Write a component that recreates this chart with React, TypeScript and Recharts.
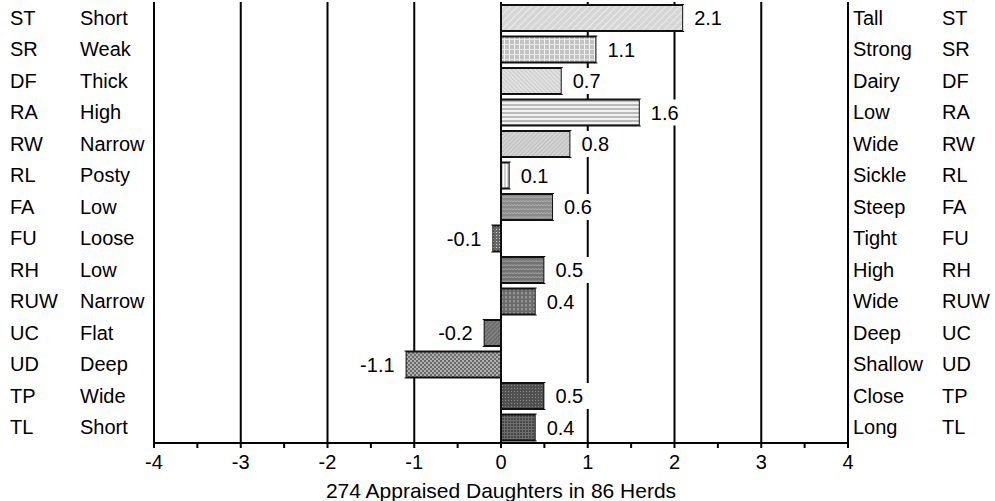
import React from 'react';
import {
  BarChart,
  Bar,
  XAxis,
  YAxis,
  CartesianGrid,
  Cell,
  LabelList,
} from 'recharts';

// trait codes, the low-end and high-end descriptions, and the PTA-style values
const codes = ['ST', 'SR', 'DF', 'RA', 'RW', 'RL', 'FA', 'FU', 'RH', 'RUW', 'UC', 'UD', 'TP', 'TL'];
const lowLabels = ['Short', 'Weak', 'Thick', 'High', 'Narrow', 'Posty', 'Low', 'Loose', 'Low', 'Narrow', 'Flat', 'Deep', 'Wide', 'Short'];
const highLabels = ['Tall', 'Strong', 'Dairy', 'Low', 'Wide', 'Sickle', 'Steep', 'Tight', 'High', 'Wide', 'Deep', 'Shallow', 'Close', 'Long'];
const values = [2.1, 1.1, 0.7, 1.6, 0.8, 0.1, 0.6, -0.1, 0.5, 0.4, -0.2, -1.1, 0.5, 0.4];

const xTicks = [-4, -3.5, -3, -2.5, -2, -1.5, -1, -0.5, 0, 0.5, 1, 1.5, 2, 2.5, 3, 3.5, 4];
const gridValues = [-4, -3, -2, -1, 0, 1, 2, 3, 4];
const xTitle = '274 Appraised Daughters in 86 Herds';

const data = codes.map((code, i) => ({
  code,
  low: lowLabels[i],
  high: highLabels[i],
  value: values[i],
}));

const FONT = '"Liberation Sans", Arial, Helvetica, sans-serif';

// rough Arial widths at 20px, enough to size the white box behind a label
const textWidth = (s: string) =>
  s.split('').reduce((w, ch) => w + (ch === '.' ? 5.6 : ch === '-' ? 6.7 : 11.1), 0);

const ValueLabel = (props: any) => {
  const { x, y, width, height, value } = props;
  if (value == null) return null;
  const left = Math.min(x, x + width);
  const right = Math.max(x, x + width);
  const text = Number(value).toFixed(1);
  const tw = textWidth(text);
  const boxW = 11 + tw + 9;
  const neg = value < 0;
  const cy = y + height / 2;
  return (
    <g>
      <rect x={neg ? left - boxW : right} y={y} width={boxW} height={height} fill="#fff" />
      <text
        x={neg ? left - 11 : right + 11}
        y={cy}
        dy="0.35em"
        textAnchor={neg ? 'end' : 'start'}
        fontSize={20}
        fontFamily={FONT}
        fill="#000"
      >
        {text}
      </text>
    </g>
  );
};

const LeftTick = (props: any) => {
  const { x, y, payload } = props;
  const row = data[payload.index];
  return (
    <g fontFamily={FONT} fontSize={20} fill="#000">
      <text x={x - 144} y={y} dy="0.35em" textAnchor="start">{row.code}</text>
      <text x={x - 74} y={y} dy="0.35em" textAnchor="start">{row.low}</text>
    </g>
  );
};

const RightTick = (props: any) => {
  const { x, y, payload } = props;
  const row = data[payload.index];
  return (
    <g fontFamily={FONT} fontSize={20} fill="#000">
      <text x={x + 5} y={y} dy="0.35em" textAnchor="start">{row.high}</text>
      <text x={x + 94} y={y} dy="0.35em" textAnchor="start">{row.code}</text>
    </g>
  );
};

// hatch fills, one per row, from light at the top to dark at the bottom
const Patterns = () => (
  <svg width={0} height={0} style={{ position: 'absolute' }}>
    <defs>
      <pattern id="p0" width="5" height="5" patternUnits="userSpaceOnUse" patternTransform="rotate(45)">
        <rect width="5" height="5" fill="#d6d6d6" />
        <line x1="0" y1="0" x2="0" y2="5" stroke="#f4f4f4" strokeWidth="1.5" />
      </pattern>
      <pattern id="p1" width="5" height="5" patternUnits="userSpaceOnUse">
        <rect width="5" height="5" fill="#c2c2c2" />
        <line x1="4.5" y1="0" x2="4.5" y2="5" stroke="#f4f4f4" strokeWidth="1" />
        <line x1="0" y1="4.5" x2="5" y2="4.5" stroke="#e8e8e8" strokeWidth="1" />
      </pattern>
      <pattern id="p2" width="3" height="3" patternUnits="userSpaceOnUse" patternTransform="rotate(-45)">
        <rect width="3" height="3" fill="#e2e2e2" />
        <line x1="0" y1="0" x2="0" y2="3" stroke="#b0b0b0" strokeWidth="1" />
      </pattern>
      <pattern id="p3" width="4" height="4" patternUnits="userSpaceOnUse">
        <rect width="4" height="4" fill="#f2f2f2" />
        <line x1="0" y1="1" x2="4" y2="1" stroke="#a6a6a6" strokeWidth="1.5" />
      </pattern>
      <pattern id="p4" width="3" height="3" patternUnits="userSpaceOnUse" patternTransform="rotate(45)">
        <rect width="3" height="3" fill="#d4d4d4" />
        <line x1="0" y1="0" x2="0" y2="3" stroke="#a4a4a4" strokeWidth="1" />
      </pattern>
      <pattern id="p5" width="3" height="3" patternUnits="userSpaceOnUse">
        <rect width="3" height="3" fill="#ffffff" />
        <line x1="1" y1="0" x2="1" y2="3" stroke="#a0a0a0" strokeWidth="1" />
      </pattern>
      <pattern id="p6" width="6" height="4" patternUnits="userSpaceOnUse">
        <rect width="6" height="4" fill="#8a8a8a" />
        <path d="M0 1.5 L1.5 0.8 L3 1.5 L4.5 0.8 L6 1.5" stroke="#b4b4b4" strokeWidth="1" fill="none" />
      </pattern>
      <pattern id="p7" width="3" height="3" patternUnits="userSpaceOnUse">
        <rect width="3" height="3" fill="#666666" />
        <rect x="1" y="1" width="1" height="1" fill="#d0d0d0" />
      </pattern>
      <pattern id="p8" width="6" height="4" patternUnits="userSpaceOnUse">
        <rect width="6" height="4" fill="#727272" />
        <path d="M0 1.5 L1.5 0.8 L3 1.5 L4.5 0.8 L6 1.5" stroke="#a8a8a8" strokeWidth="1" fill="none" />
      </pattern>
      <pattern id="p9" width="4" height="4" patternUnits="userSpaceOnUse">
        <rect width="4" height="4" fill="#6a6a6a" />
        <line x1="2" y1="0" x2="2" y2="2.5" stroke="#bcbcbc" strokeWidth="1" />
      </pattern>
      <pattern id="p10" width="3" height="3" patternUnits="userSpaceOnUse" patternTransform="rotate(45)">
        <rect width="3" height="3" fill="#6c6c6c" />
        <line x1="0" y1="0" x2="0" y2="3" stroke="#a8a8a8" strokeWidth="1" />
      </pattern>
      <pattern id="p11" width="4" height="4" patternUnits="userSpaceOnUse">
        <rect width="4" height="4" fill="#b0b0b0" />
        <rect x="0" y="0" width="2" height="2" fill="#6a6a6a" />
        <rect x="2" y="2" width="2" height="2" fill="#6a6a6a" />
      </pattern>
      <pattern id="p12" width="3" height="3" patternUnits="userSpaceOnUse">
        <rect width="3" height="3" fill="#505050" />
        <rect x="1" y="1" width="1" height="1" fill="#8c8c8c" />
      </pattern>
      <pattern id="p13" width="3" height="3" patternUnits="userSpaceOnUse">
        <rect width="3" height="3" fill="#474747" />
        <line x1="0" y1="0.5" x2="3" y2="0.5" stroke="#6e6e6e" strokeWidth="1" />
        <line x1="0.5" y1="0" x2="0.5" y2="3" stroke="#6e6e6e" strokeWidth="1" />
      </pattern>
    </defs>
  </svg>
);

export default function App() {
  return (
    <div style={{ position: 'absolute', left: 0, top: 0, width: 995, height: 501, background: '#fff' }}>
      <Patterns />
      <BarChart
        width={995}
        height={501}
        data={data}
        layout="vertical"
        margin={{ top: 2, right: 0, bottom: 0, left: 0 }}
        barCategoryGap={3}
        style={{ fontFamily: FONT }}
      >
        <CartesianGrid
          horizontal={false}
          verticalValues={gridValues}
          stroke="#000"
          strokeWidth={2}
          strokeOpacity={1}
        />
        <XAxis
          type="number"
          domain={[-4, 4]}
          ticks={xTicks}
          interval={0}
          allowDataOverflow
          tickFormatter={(v: number) => (Number.isInteger(v) ? String(v) : '')}
          tick={{ fill: '#000', fontSize: 20, fontFamily: FONT }}
          tickSize={5}
          tickMargin={7}
          axisLine={{ stroke: '#000', strokeWidth: 2 }}
          tickLine={{ stroke: '#000', strokeWidth: 2 }}
          height={58}
          label={{ value: xTitle, position: 'insideBottom', offset: 3, fill: '#000', fontSize: 21, fontFamily: FONT }}
        />
        <XAxis
          xAxisId="top"
          orientation="top"
          type="number"
          domain={[-4, 4]}
          height={0}
          tick={false}
          tickLine={false}
          axisLine={{ stroke: '#000', strokeWidth: 2 }}
        />
        <YAxis
          type="category"
          dataKey="code"
          width={154}
          axisLine={false}
          tickLine={false}
          tickSize={0}
          tickMargin={0}
          interval={0}
          tick={<LeftTick />}
        />
        <YAxis
          yAxisId="right"
          orientation="right"
          type="category"
          dataKey="code"
          width={147}
          axisLine={false}
          tickLine={false}
          tickSize={0}
          tickMargin={0}
          interval={0}
          tick={<RightTick />}
        />
        <Bar dataKey="value" isAnimationActive={false}>
          {data.map((d, i) => (
            <Cell key={d.code + i} fill={`url(#p${i})`} stroke="#111" strokeWidth={2} />
          ))}
          <LabelList dataKey="value" content={<ValueLabel />} />
        </Bar>
      </BarChart>
    </div>
  );
}
